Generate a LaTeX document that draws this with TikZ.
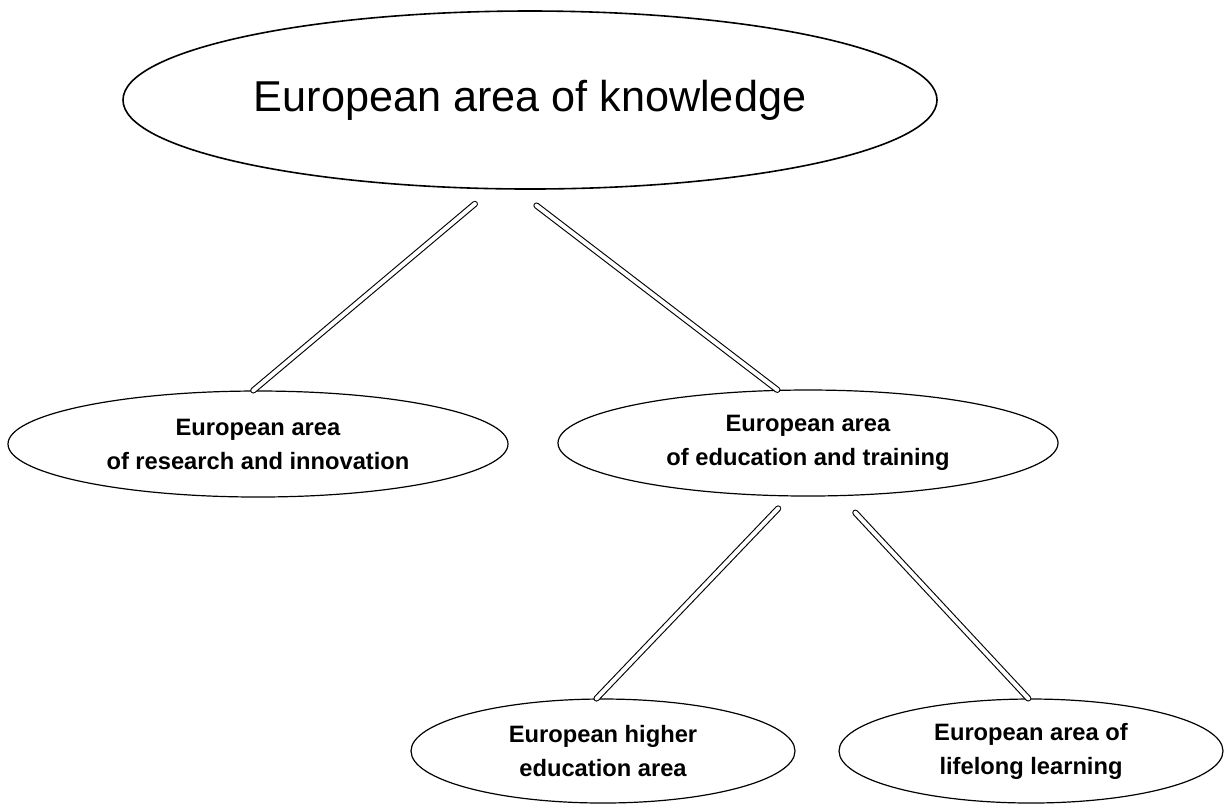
\documentclass[tikz,border=0pt]{standalone}
\usepackage{fontspec}
\setmainfont{Liberation Sans}
\usetikzlibrary{shapes.geometric}
\begin{document}
\begin{tikzpicture}[x=0.5pt,y=-0.5pt,
		area/.style={draw,ellipse,line width=0.6pt,inner sep=0pt,align=center,font=\bfseries\fontsize{11.85}{17}\selectfont},
		link/.style={double,double distance=2pt,line width=0.55pt,line cap=round}]
		\useasboundingbox (0,0) rectangle (1224,811);
		
		\node[draw,ellipse,line width=0.8pt,inner sep=0pt,minimum width=407pt,minimum height=89pt,font=\fontsize{21.6}{26}\selectfont] at (530,100) (k) {European area of knowledge};
		\node[area,minimum width=250pt,minimum height=53pt] at (258,444) (r) {European area\\of research and innovation};
		\node[area,minimum width=250pt,minimum height=53pt] at (808,443) (t) {European area\\of education and training};
		\node[area,minimum width=192pt,minimum height=52pt] at (603,751) (h) {European higher\\education area};
		\node[area,minimum width=192pt,minimum height=52pt] at (1031,751) (l) {European area of\\lifelong learning};
		
		\draw[link,shorten <=11.25pt] (k.247) -- (r.95);
		\draw[link,shorten <=13pt] (k.261) -- (t.120);
		
		\draw[link,shorten <=8.3pt] (t.251) -- (h.97);
		\draw[link,shorten <=11.3pt] (t.301) -- (l.93);
	\end{tikzpicture}
\end{document}
